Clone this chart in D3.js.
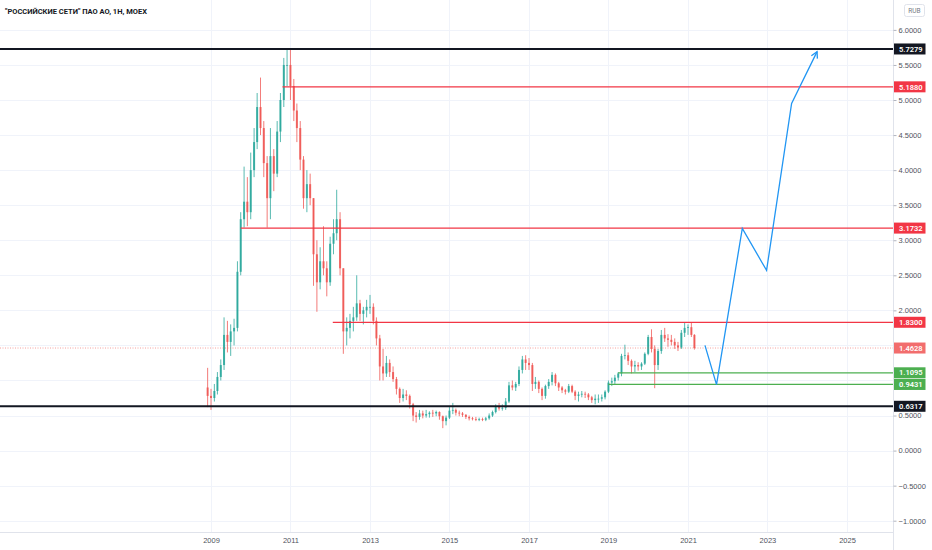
<!DOCTYPE html>
<html>
<head>
<meta charset="utf-8">
<script src="https://cdn.jsdelivr.net/npm/d3@7"></script>
<style>
  html, body { margin: 0; padding: 0; background: #ffffff; }
  svg { display: block; font-family: Roboto, "Noto Sans", sans-serif; }
</style>
</head>
<body>
<svg id="chart" width="932" height="550"></svg>
<script>
// monthly candles, first one is Dec 2008, last one Mar 2021
var firstMonth = "2008-12";
var opens = [
  0.90,
  0.78,0.75,0.85,1.05,1.22,1.65,1.55,1.70,1.75,2.55,3.30,3.55,
  3.40,4.00,4.40,4.90,4.60,4.10,3.60,4.20,3.95,4.55,5.00,5.50,
  5.50,5.20,4.85,4.60,4.15,3.60,3.80,3.60,2.80,2.40,2.70,2.60,
  2.40,2.95,3.10,3.30,2.60,1.70,1.75,1.85,1.90,2.10,1.95,2.00,
  2.05,2.05,1.85,1.60,1.20,1.10,1.25,1.12,1.02,0.88,0.75,0.80,
  0.78,0.66,0.50,0.48,0.53,0.50,0.52,0.54,0.53,0.55,0.49,0.42,
  0.47,0.57,0.58,0.54,0.53,0.51,0.48,0.46,0.45,0.44,0.45,0.44,
  0.46,0.50,0.55,0.62,0.60,0.61,0.70,0.93,0.90,0.95,1.15,1.30,
  1.25,1.22,0.95,0.98,0.88,0.78,0.92,0.98,1.08,0.96,0.90,0.86,
  0.84,0.92,0.84,0.78,0.80,0.81,0.80,0.76,0.72,0.74,0.74,0.76,
  0.84,0.97,0.99,1.04,1.10,1.35,1.36,1.28,1.20,1.22,1.20,1.24,
  1.38,1.62,1.45,1.22,1.42,1.65,1.60,1.58,1.55,1.50,1.47,1.68,
  1.75,1.76,1.65
];
var highs = [
  1.18,
  0.88,0.95,1.12,1.30,1.90,1.85,1.80,1.88,2.70,3.40,4.05,3.90,
  4.25,4.60,5.10,5.32,4.70,4.20,4.60,4.30,4.70,5.10,5.60,5.73,
  5.72,5.30,4.95,4.70,4.20,4.00,3.95,3.60,3.00,2.90,3.20,2.70,
  3.05,3.30,3.72,3.40,2.60,1.90,1.95,2.05,2.50,2.15,2.05,2.15,
  2.22,2.10,1.90,1.65,1.45,1.35,1.30,1.20,1.05,0.90,0.88,0.86,
  0.80,0.68,0.55,0.58,0.57,0.58,0.56,0.58,0.57,0.56,0.50,0.50,
  0.62,0.68,0.60,0.57,0.55,0.52,0.50,0.48,0.48,0.47,0.47,0.48,
  0.53,0.57,0.66,0.68,0.66,0.75,0.98,1.00,0.98,1.20,1.35,1.36,
  1.32,1.25,1.05,1.00,0.90,0.94,1.02,1.12,1.10,0.98,0.92,0.88,
  0.95,0.94,0.86,0.84,0.85,0.84,0.82,0.78,0.80,0.80,0.80,0.86,
  1.00,1.04,1.08,1.12,1.38,1.51,1.40,1.30,1.28,1.26,1.26,1.40,
  1.65,1.73,1.50,1.45,1.72,1.75,1.66,1.65,1.60,1.55,1.72,1.83,
  1.80,1.82,1.66
];
var lows = [
  0.62,
  0.58,0.70,0.80,1.00,1.15,1.40,1.35,1.50,1.70,2.50,3.18,3.20,
  3.30,3.90,4.30,4.50,3.90,3.18,3.30,3.70,3.90,4.40,4.90,5.20,
  5.00,4.70,4.40,4.00,3.45,3.40,3.50,2.35,1.98,2.30,2.50,2.20,
  2.35,2.80,3.00,2.50,1.38,1.50,1.60,1.70,1.85,1.85,1.80,1.90,
  1.95,1.80,1.50,1.00,1.00,1.05,1.05,0.98,0.80,0.68,0.70,0.72,
  0.60,0.42,0.40,0.44,0.46,0.47,0.47,0.48,0.49,0.44,0.32,0.36,
  0.45,0.52,0.50,0.49,0.48,0.45,0.43,0.43,0.42,0.42,0.42,0.42,
  0.44,0.48,0.53,0.57,0.57,0.58,0.68,0.86,0.85,0.92,1.10,1.15,
  1.15,0.85,0.88,0.82,0.72,0.74,0.88,0.93,0.92,0.85,0.82,0.80,
  0.82,0.82,0.72,0.70,0.76,0.75,0.72,0.68,0.66,0.68,0.70,0.73,
  0.82,0.92,0.94,1.00,1.06,1.30,1.22,1.10,1.12,1.14,1.15,1.22,
  1.36,1.40,0.89,1.15,1.38,1.55,1.48,1.50,1.45,1.42,1.45,1.62,
  1.65,1.62,1.44
];
var closes = [
  0.78,
  0.75,0.85,1.05,1.22,1.65,1.55,1.70,1.75,2.55,3.30,3.55,3.40,
  4.00,4.40,4.90,4.60,4.10,3.60,4.20,3.95,4.55,5.00,5.50,5.50,
  5.20,4.85,4.60,4.15,3.60,3.80,3.60,2.80,2.40,2.70,2.60,2.40,
  2.95,3.10,3.30,2.60,1.70,1.75,1.85,1.90,2.10,1.95,2.00,2.05,
  2.05,1.85,1.60,1.20,1.10,1.25,1.12,1.02,0.88,0.75,0.80,0.78,
  0.66,0.50,0.48,0.53,0.50,0.52,0.54,0.53,0.55,0.49,0.42,0.47,
  0.57,0.58,0.54,0.53,0.51,0.48,0.46,0.45,0.44,0.45,0.44,0.46,
  0.50,0.55,0.62,0.60,0.61,0.70,0.93,0.90,0.95,1.15,1.30,1.25,
  1.22,0.95,0.98,0.88,0.78,0.92,0.98,1.08,0.96,0.90,0.86,0.84,
  0.92,0.84,0.78,0.80,0.81,0.80,0.76,0.72,0.74,0.74,0.76,0.84,
  0.97,0.99,1.04,1.10,1.35,1.36,1.28,1.20,1.22,1.20,1.24,1.38,
  1.62,1.45,1.22,1.42,1.65,1.60,1.58,1.55,1.50,1.47,1.68,1.75,
  1.76,1.65,1.4628
];

// horizontal levels drawn on the chart
var levelValues = [5.7279, 5.1880, 3.1732, 1.8300, 1.1095, 0.9431, 0.6317];
var levelFrom   = [null, "2010-10-20", "2009-10-01", "2012-01-25", "2019-04-01", "2019-01-01", null];
var levelKind   = ["black", "red", "red", "red", "green", "green", "black"];
var lastPrice = 1.4628;

// hand-drawn projection
var projDates  = ["2021-06-06", "2021-09-20", "2022-05-15", "2022-12-24", "2023-08-11", "2024-04-01"];
var projValues = [1.50, 0.94, 3.17, 2.57, 4.95, 5.69];

var priceTicks = [-1, -0.5, 0, 0.5, 1, 1.5, 2, 2.5, 3, 3.5, 4, 4.5, 5, 5.5, 6];
var yearTicks = [2009, 2011, 2013, 2015, 2017, 2019, 2021, 2023, 2025];
var title = "\"РОССИЙСКИЕ СЕТИ\" ПАО АО, 1H, MOEX";

var W = 932, H = 550, plotR = 893, axisY = 532;
var colors = { black: "#131722", red: "#f23645", green: "#4caf50", up: "#26a69a", down: "#ef5350", last: "#f26d6d", blue: "#2196f3" };

var parseM = d3.timeParse("%Y-%m");
var parseD = d3.timeParse("%Y-%m-%d");

var x = d3.scaleTime()
  .domain([new Date(2009, 0, 1), new Date(2025, 0, 1)])
  .range([211, 847]);
var y = d3.scaleLinear().domain([-1, 6]).range([520.7, 29.9]);

var svg = d3.select("#chart");

var candles = closes.map(function(c, i) {
  return { date: d3.timeMonth.offset(parseM(firstMonth), i), o: opens[i], h: highs[i], l: lows[i], c: c };
});
var yearDates = yearTicks.map(function(yr) { return new Date(yr, 0, 1); });

// grid
var grid = svg.append("g");
grid.selectAll("line.h").data(priceTicks).enter().append("line")
  .attr("x1", 0).attr("x2", plotR)
  .attr("y1", function(d) { return Math.round(y(d)) + 0.5; })
  .attr("y2", function(d) { return Math.round(y(d)) + 0.5; })
  .attr("stroke", "#f0f3fa");
grid.selectAll("line.v").data(yearDates).enter().append("line")
  .attr("x1", function(d) { return Math.round(x(d)) + 0.5; })
  .attr("x2", function(d) { return Math.round(x(d)) + 0.5; })
  .attr("y1", 0).attr("y2", axisY)
  .attr("stroke", "#f0f3fa");

// candles
var cg = svg.append("g");
cg.selectAll("line").data(candles).enter().append("line")
  .attr("x1", function(d) { return x(d.date); })
  .attr("x2", function(d) { return x(d.date); })
  .attr("y1", function(d) { return y(d.h); })
  .attr("y2", function(d) { return y(d.l); })
  .attr("stroke", function(d) { return d.c >= d.o ? colors.up : colors.down; })
  .attr("stroke-width", 0.9)
  .attr("opacity", 0.85);
cg.selectAll("rect").data(candles).enter().append("rect")
  .attr("x", function(d) { return x(d.date) - 1; })
  .attr("width", 2)
  .attr("y", function(d) { return y(Math.max(d.o, d.c)); })
  .attr("height", function(d) { return Math.max(0.8, Math.abs(y(d.o) - y(d.c))); })
  .attr("fill", function(d) { return d.c >= d.o ? colors.up : colors.down; })
  .attr("opacity", 0.85);

// last price dotted line
svg.append("line")
  .attr("x1", 0).attr("x2", plotR)
  .attr("y1", y(lastPrice)).attr("y2", y(lastPrice))
  .attr("stroke", colors.down).attr("stroke-opacity", 0.55)
  .attr("stroke-dasharray", "1,1.5");

// levels
var levels = levelValues.map(function(v, i) {
  return { v: v, from: levelFrom[i], kind: levelKind[i] };
});
svg.append("g").selectAll("line").data(levels).enter().append("line")
  .attr("x1", function(d) { return d.from ? x(parseD(d.from)) : 0; })
  .attr("x2", plotR)
  .attr("y1", function(d) { return y(d.v); })
  .attr("y2", function(d) { return y(d.v); })
  .attr("stroke", function(d) { return colors[d.kind]; })
  .attr("stroke-width", function(d) { return d.kind == "black" ? 2 : 1.3; });

// projection
var proj = projDates.map(function(d, i) { return [x(parseD(d)), y(projValues[i])]; });
svg.append("path")
  .attr("d", d3.line()(proj))
  .attr("fill", "none").attr("stroke", colors.blue).attr("stroke-width", 1.3)
  .attr("stroke-linejoin", "miter");
var a = proj[proj.length - 2], b = proj[proj.length - 1];
var ang = Math.atan2(b[1] - a[1], b[0] - a[0]);
var head = [ang + Math.PI - 0.5, ang + Math.PI + 0.5].map(function(t) {
  return [b[0] + 7 * Math.cos(t), b[1] + 7 * Math.sin(t)];
});
svg.append("path")
  .attr("d", d3.line()([head[0], b, head[1]]))
  .attr("fill", "none").attr("stroke", colors.blue).attr("stroke-width", 1.3);

// axes frame
svg.append("rect").attr("x", plotR + 0.5).attr("y", 0).attr("width", W - plotR).attr("height", H).attr("fill", "#ffffff");
svg.append("rect").attr("x", 0).attr("y", axisY + 0.5).attr("width", plotR).attr("height", H - axisY).attr("fill", "#ffffff");
svg.append("line").attr("x1", plotR + 0.5).attr("x2", plotR + 0.5).attr("y1", 0).attr("y2", H).attr("stroke", "#e0e3eb");
svg.append("line").attr("x1", 0).attr("x2", plotR).attr("y1", axisY + 0.5).attr("y2", axisY + 0.5).attr("stroke", "#e0e3eb");

// price labels sit over the scale, so scale labels under them are left out
var tagValues = levelValues.concat([lastPrice]);
var shownTicks = priceTicks.filter(function(t) {
  return tagValues.every(function(v) { return Math.abs(y(v) - y(t)) > 9; });
});
var yAxis = svg.append("g")
  .attr("transform", "translate(" + (plotR + 0.5) + ",0)")
  .call(d3.axisRight(y).tickValues(shownTicks).tickSize(3).tickPadding(2).tickFormat(d3.format(".4f")));
yAxis.select(".domain").remove();
yAxis.selectAll("line").attr("stroke", "#b2b5be");
yAxis.selectAll("text").attr("fill", "#50535e").attr("font-size", 7.5);

var xAxis = svg.append("g")
  .attr("transform", "translate(0," + (axisY + 0.5) + ")")
  .call(d3.axisBottom(x).tickValues(yearDates).tickSize(0).tickPadding(5).tickFormat(d3.timeFormat("%Y")));
xAxis.select(".domain").remove();
xAxis.selectAll("text").attr("fill", "#50535e").attr("font-size", 7.5);

// price labels on the axis
var tags = levels.map(function(d) { return { v: d.v, fill: colors[d.kind] }; });
tags.push({ v: lastPrice, fill: colors.last });
var tg = svg.append("g").selectAll("g").data(tags).enter().append("g")
  .attr("transform", function(d) { return "translate(" + (plotR + 1) + "," + y(d.v) + ")"; });
tg.append("rect").attr("x", 0).attr("y", -5.5).attr("width", 31.5).attr("height", 11).attr("fill", function(d) { return d.fill; });
tg.append("text").attr("x", 5).attr("y", 2.7)
  .attr("font-size", 7.5).attr("font-weight", 600).attr("fill", "#ffffff")
  .text(function(d) { return d3.format(".4f")(d.v); });

// currency box
svg.append("rect").attr("x", 904.5).attr("y", 4.5).attr("width", 20).attr("height", 12).attr("rx", 2)
  .attr("fill", "#ffffff").attr("stroke", "#e0e3eb");
svg.append("text").attr("x", 914.5).attr("y", 13).attr("text-anchor", "middle")
  .attr("font-size", 6.5).attr("fill", "#787b86").text("RUB");

// title
svg.append("text").attr("x", 5).attr("y", 13.5)
  .attr("font-size", 7.5).attr("font-weight", 700).attr("fill", "#131722").text(title);
</script>
</body>
</html>
